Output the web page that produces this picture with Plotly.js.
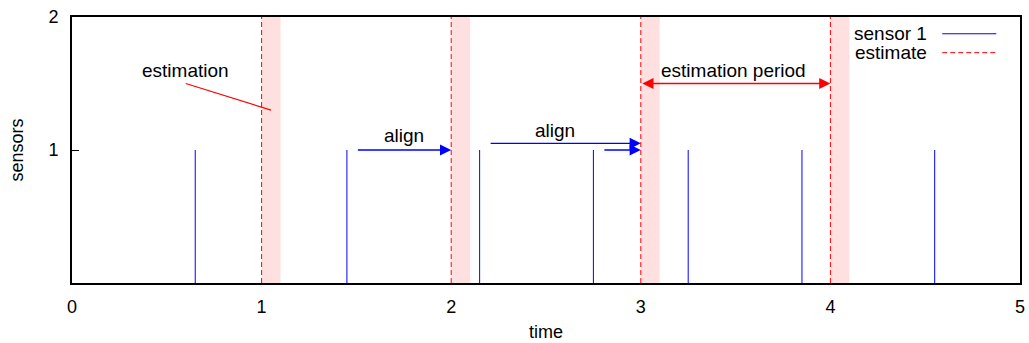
<!DOCTYPE html>
<html>
<head>
<meta charset="utf-8">
<script src="https://cdn.plot.ly/plotly-3.0.1.min.js"></script>
<style>html,body{margin:0;padding:0;background:#fff;}#chart{width:1029px;height:343px;}</style>
</head>
<body>
<div id="chart"></div>
<script>
// ---- data ----
var sensorTimes = [0.65, 1.45, 2.15, 2.75, 3.25, 3.85, 4.55];
var sensorValue = 1;
var estimateTimes = [1, 2, 3, 4];
var estimateTop = 2;
var estimateWindow = 0.1;
var xTicks = [0, 1, 2, 3, 4, 5];
var yTicks = [1, 2];
var seriesNames = ["sensor 1", "estimate"];
// arrows: [x0, y0, x1, y1]
var alignArrows = [[1.5, 1.0, 2.0, 1.0], [2.2, 1.05, 3.0, 1.05], [2.8, 1.0, 3.0, 1.0]];
var periodArrow = [3.0, 1.5, 4.0, 1.5];
var estimationPointer = [0.6, 1.5, 1.05, 1.3];
var labels = [
  {text: "estimation", x: 0.6, y: 1.6},
  {text: "align", x: 1.75, y: 1.11},
  {text: "align", x: 2.55, y: 1.145},
  {text: "estimation period", x: 3.49, y: 1.595}
];

var FONT = "Liberation Sans, Arial, Helvetica, sans-serif";

// build vertical impulse lines
function impulses(xs, top) {
  var X = [], Y = [];
  xs.forEach(function (v) { X.push(v, v, null); Y.push(0, top, null); });
  return {x: X, y: Y};
}
var s = impulses(sensorTimes, sensorValue);
var e = impulses(estimateTimes, estimateTop);

var traces = [
  {x: s.x, y: s.y, mode: "lines", name: seriesNames[0], line: {color: "#0000ff", width: 1}, showlegend: false, hoverinfo: "skip"},
  {x: e.x, y: e.y, mode: "lines", name: seriesNames[1], line: {color: "#ff0000", width: 1, dash: "5px,3px"}, showlegend: false, hoverinfo: "skip"}
];

var shapes = estimateTimes.map(function (t) {
  return {type: "rect", xref: "x", yref: "y", x0: t, x1: t + estimateWindow, y0: 0, y1: estimateTop,
          fillcolor: "rgba(255,0,0,0.12)", line: {width: 0}, layer: "below"};
});
shapes.push({type: "line", xref: "x", yref: "y", x0: estimationPointer[0], y0: estimationPointer[1],
  x1: estimationPointer[2], y1: estimationPointer[3], line: {color: "#ff0000", width: 1.2}});
// custom gnuplot-style legend (sample line on the right)
shapes.push({type: "line", xref: "paper", yref: "paper", x0: 0.918, x1: 0.975, y0: 0.937, y1: 0.937, line: {color: "#0000ff", width: 1}});
shapes.push({type: "line", xref: "paper", yref: "paper", x0: 0.918, x1: 0.975, y0: 0.866, y1: 0.866, line: {color: "#ff0000", width: 1, dash: "5px,3px"}});

var annotations = labels.map(function (l) {
  return {text: l.text, x: l.x, y: l.y, xref: "x", yref: "y", showarrow: false,
          font: {family: FONT, size: 19, color: "#000"}, xanchor: "center", yanchor: "middle"};
});
alignArrows.forEach(function (a) {
  annotations.push({x: a[2], y: a[3], ax: a[0], ay: a[1], xref: "x", yref: "y", axref: "x", ayref: "y",
    text: "", showarrow: true, arrowhead: 2, arrowsize: 1.6, arrowwidth: 1.4, arrowcolor: "#0000ff", standoff: 0, startstandoff: 0});
});
annotations.push({x: periodArrow[2], y: periodArrow[3], ax: periodArrow[0], ay: periodArrow[1], xref: "x", yref: "y", axref: "x", ayref: "y",
  text: "", showarrow: true, arrowhead: 2, startarrowhead: 2, arrowside: "end+start", arrowsize: 1.6, startarrowsize: 1.6,
  arrowwidth: 1.4, arrowcolor: "#ff0000", standoff: 0, startstandoff: 0});
annotations.push({text: seriesNames[0], xref: "paper", yref: "paper", x: 0.904, y: 0.937, xanchor: "right", yanchor: "middle",
  showarrow: false, font: {family: FONT, size: 19, color: "#000"}});
annotations.push({text: seriesNames[1], xref: "paper", yref: "paper", x: 0.904, y: 0.866, xanchor: "right", yanchor: "middle",
  showarrow: false, font: {family: FONT, size: 19, color: "#000"}});

var layout = {
  width: 1029, height: 343,
  margin: {l: 72, r: 9, t: 17, b: 60, pad: 0},
  paper_bgcolor: "#fff", plot_bgcolor: "#fff",
  showlegend: false,
  font: {family: FONT, size: 18, color: "#000"},
  xaxis: {range: [0, 5], tickvals: xTicks, ticktext: xTicks.map(String), ticks: "", showgrid: false, zeroline: false,
          showline: true, mirror: true, linecolor: "#000", linewidth: 2, ticklabelstandoff: 6,
          title: {text: "time", font: {size: 18}, standoff: 10}, fixedrange: true},
  yaxis: {range: [0, 2], tickvals: yTicks, ticktext: yTicks.map(String), ticks: "inside", ticklen: 7, tickcolor: "#000", tickwidth: 1,
          showgrid: false, zeroline: false, showline: true, mirror: true, linecolor: "#000", linewidth: 2, ticklabelstandoff: 8,
          title: {text: "sensors", font: {size: 18}, standoff: 20}, fixedrange: true},
  shapes: shapes,
  annotations: annotations
};

Plotly.newPlot("chart", traces, layout, {displayModeBar: false, staticPlot: true});
</script>
</body>
</html>
